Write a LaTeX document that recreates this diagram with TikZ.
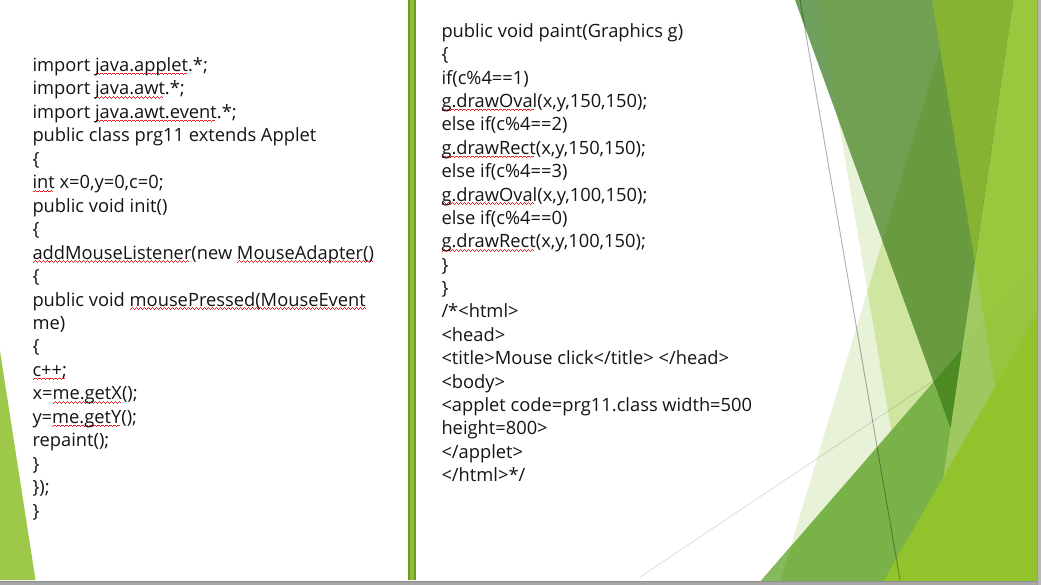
\documentclass[tikz,border=0pt]{standalone}
\usepackage{fontspec}
\setmainfont{Open Sans}
\definecolor{sqred}{HTML}{E8262B}
\definecolor{codeblack}{HTML}{141414}
\definecolor{pale}{HTML}{E8F2D8}
\definecolor{medpale}{HTML}{D0E5A0}
\definecolor{gthree}{HTML}{A2CA62}
\definecolor{gtwothree}{HTML}{9AC73E}
\definecolor{donly}{HTML}{6FA05D}
\definecolor{dptwo}{HTML}{71A052}
\definecolor{dpot}{HTML}{699A3F}
\definecolor{dgtwo}{HTML}{87B333}
\definecolor{gfour}{HTML}{7AB24A}
\definecolor{gfourl}{HTML}{84BA5C}
\definecolor{gfourthree}{HTML}{A0C860}
\definecolor{gfourtt}{HTML}{98C53E}
\definecolor{dspot}{HTML}{4E8A24}
\definecolor{gseven}{HTML}{92C22C}
\definecolor{leftgreen}{HTML}{9DC84A}
\definecolor{bardark}{HTML}{6E9A1E}
\definecolor{barlight}{HTML}{8DBE3B}
\newcommand\squnit{\textcolor{sqred}{\rule[-3.5pt]{1pt}{0.8pt}\rule[-2.8pt]{1pt}{0.8pt}\rule[-2.1pt]{1pt}{0.8pt}\rule[-2.8pt]{1pt}{0.8pt}}}
\newcommand\sq[1]{\setbox0=\hbox{#1}\leavevmode\rlap{\hbox to \wd0{\leaders\hbox{\squnit}\hfill}}\box0\relax}
\def\pPone{(958,-10) -- (774.6,600) -- (1100,600) -- (1100,-10) -- cycle}
\def\pPtwo{(816.3,-10) -- (920.1,600) -- (1100,600) -- (1100,-10) -- cycle}
\def\pGtwo{(930.4,-10) -- (1029.9,600) -- (1100,600) -- (1100,-10) -- cycle}
\def\pGthree{(1014.5,-10) -- (925.4,600) -- (1100,600) -- (1100,-10) -- cycle}
\def\pGfour{(740,605) -- (1100,190) -- (1100,605) -- cycle}
\def\pGseven{(870,604.6) -- (1100,204.3) -- (1100,605) -- cycle}
\def\pD{(791.4,-10) -- (1014.5,-10) -- (950.5,428) -- cycle}
\def\pLnine{(958,-10) -- (774.6,600) -- (-10,600) -- (-10,-10) -- cycle}
\begin{document}
\begin{tikzpicture}[x=1pt,y=-1pt,
  code/.style={anchor=base west,inner sep=0pt,outer sep=0pt,text=codeblack,font=\fontsize{18.3}{21}\selectfont},
  grayline/.style={draw=black,draw opacity=0.32,line width=0.9pt},
  faintline/.style={draw=black,draw opacity=0.13,line width=0.8pt}]
\useasboundingbox (0,0) rectangle (1041,585);
\fill[white] (0,0) rectangle (1041,585);
% right decoration
\begin{scope}
\clip (0,0) rectangle (1037,580);
\fill[pale] \pPone;
\fill[pale] \pPtwo;
\begin{scope}\clip \pPone; \fill[medpale] \pPtwo; \end{scope}
\fill[gthree] \pGthree;
\begin{scope}\clip \pGthree; \fill[gtwothree] \pGtwo; \end{scope}
\fill[donly] \pD;
\begin{scope}\clip \pD; \fill[dptwo] \pPtwo; \clip \pPtwo; \fill[dpot] \pPone; \end{scope}
\begin{scope}\clip \pD; \fill[dgtwo] \pGtwo; \end{scope}
\fill[gfour] \pGfour;
\begin{scope}\clip \pGfour; \fill[gfourl] \pLnine; \end{scope}
\begin{scope}\clip \pGfour; \fill[gfourthree] \pGthree; \clip \pGthree; \fill[gfourtt] \pGtwo; \end{scope}
\begin{scope}\clip \pGfour; \fill[dspot] \pD; \end{scope}
\fill[gseven] \pGseven;
\draw[grayline] (800,0) -- (900,580);
\draw[faintline] (640,577) -- (933,381);
\end{scope}
% left triangle
\fill[leftgreen] (0,351) -- (0,580) -- (35.5,580) -- cycle;
% middle bar
\fill[bardark] (407.5,0) rectangle (416,580);
\fill[barlight] (409.5,0) rectangle (414,580);
% borders
\fill[black!35] (0,580.5) rectangle (1041,585);
\draw[black!45,line width=0.8pt] (0,580.9) -- (1041,580.9);
\fill[black!28] (1037,0) rectangle (1041,585);
\draw[black!40,line width=0.8pt] (1037.4,0) -- (1037.4,585);
% left column
\node[code] (l1) at (32.5,71.5) {import \sq{java.applet}.*;};
\node[code] (l2) at (32.5,94.95) {import \sq{java.awt}.*;};
\node[code] (l3) at (32.5,118.4) {import \sq{java.awt.event}.*;};
\node[code] (l4) at (32.5,141.85) {public class prg11 extends Applet};
\node[code] (l5) at (32.5,165.3) {\{};
\node[code] (l6) at (32.5,188.75) {\sq{int} x=0,y=0,c=0;};
\node[code] (l7) at (32.5,212.2) {public void init()};
\node[code] (l8) at (32.5,235.65) {\{};
\node[code] (l9) at (32.5,259.1) {\sq{addMouseListener}(new \sq{MouseAdapter()}};
\node[code] (l10) at (32.5,282.55) {\{};
\node[code] (l11) at (32.5,306) {public void \sq{mousePressed(MouseEvent}};
\node[code] (l12) at (32.5,329.45) {me)};
\node[code] (l13) at (32.5,352.9) {\{};
\node[code] (l14) at (32.5,376.35) {\sq{c++;}};
\node[code] (l15) at (32.5,399.8) {x=\sq{me.getX}();};
\node[code] (l16) at (32.5,423.25) {y=\sq{me.getY}();};
\node[code] (l17) at (32.5,446.7) {repaint();};
\node[code] (l18) at (32.5,470.15) {\}};
\node[code] (l19) at (32.5,493.6) {\});};
\node[code] (l20) at (32.5,517.05) {\}};
% right column
\node[code] (r1) at (441.5,37.3) {public void paint(Graphics g)};
\node[code] (r2) at (441.5,60.69) {\{};
\node[code] (r3) at (441.5,84.08) {if(c\%4==1)};
\node[code] (r4) at (441.5,107.47) {\sq{g.drawOval}(x,y,150,150);};
\node[code] (r5) at (441.5,130.86) {else if(c\%4==2)};
\node[code] (r6) at (441.5,154.25) {\sq{g.drawRect}(x,y,150,150);};
\node[code] (r7) at (441.5,177.64) {else if(c\%4==3)};
\node[code] (r8) at (441.5,201.03) {\sq{g.drawOval}(x,y,100,150);};
\node[code] (r9) at (441.5,224.42) {else if(c\%4==0)};
\node[code] (r10) at (441.5,247.81) {\sq{g.drawRect}(x,y,100,150);};
\node[code] (r11) at (441.5,271.2) {\}};
\node[code] (r12) at (441.5,294.59) {\}};
\node[code] (r13) at (441.5,317.98) {/*<html>};
\node[code] (r14) at (441.5,341.37) {<head>};
\node[code] (r15) at (441.5,364.76) {<title>Mouse click</title> </head>};
\node[code] (r16) at (441.5,388.15) {<body>};
\node[code] (r17) at (441.5,411.54) {<applet code=prg11.class width=500};
\node[code] (r18) at (441.5,434.93) {height=800>};
\node[code] (r19) at (441.5,458.32) {</applet>};
\node[code] (r20) at (441.5,481.71) {</html>*/};
\end{tikzpicture}
\end{document}
